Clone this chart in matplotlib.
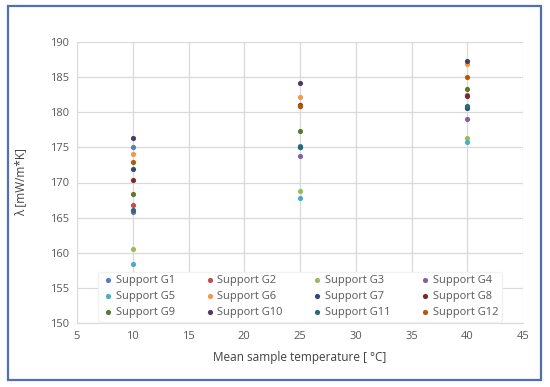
import matplotlib.pyplot as plt
from matplotlib.patches import Rectangle

# -----------------------------
# Data
# -----------------------------
temps = [10, 25, 40]
series_names = ["Support G%d" % i for i in range(1, 13)]

g1 = [175.1, 175.2, 180.8]
g2 = [166.8, 180.9, 182.4]
g3 = [160.5, 168.8, 176.3]
g4 = [165.8, 173.8, 179.0]
g5 = [158.4, 167.8, 175.7]
g6 = [174.0, 182.1, 186.8]
g7 = [171.9, 175.0, 180.6]
g8 = [170.4, 181.0, 182.3]
g9 = [168.4, 177.4, 183.3]
g10 = [176.4, 184.1, 187.3]
g11 = [166.1, 175.1, 180.9]
g12 = [172.9, 180.9, 185.0]

all_series = [g1, g2, g3, g4, g5, g6, g7, g8, g9, g10, g11, g12]

# Excel 2010 style palette (accents + darker shades)
colors = ["#4F81BD", "#C0504D", "#9BBB59", "#8064A2", "#4BACC6", "#F79646",
          "#2C4D75", "#772C2A", "#5F7530", "#4D3B62", "#276A7C", "#B65708"]

plt.rcParams["font.family"] = ["Open Sans", "DejaVu Sans"]

fig = plt.figure(figsize=(5.5, 3.87), dpi=100)
ax = fig.add_axes([77 / 550, 1 - 323 / 387, 446 / 550, 281 / 387])

handles = []
for name, vals, c in zip(series_names, all_series, colors):
    h = ax.scatter(temps, vals, s=14, color=c, label=name, zorder=3, linewidths=0)
    handles.append(h)

ax.set_xlim(5, 45)
ax.set_ylim(150, 190)
ax.set_xticks(range(5, 50, 5))
ax.set_yticks(range(150, 195, 5))
ax.grid(True, color="#D9D9D9", linewidth=0.9)
ax.set_axisbelow(True)
for s in ["top", "right", "left"]:
    ax.spines[s].set_visible(False)
ax.spines["bottom"].set_color("#D9D9D9")
ax.tick_params(length=0, labelsize=8, colors="#595959", pad=6)

ax.set_xlabel("Mean sample temperature [ °C]", fontsize=8.5, color="#404040", labelpad=6)
ax.set_ylabel("λ [mW/m*K]", fontsize=8.5, color="#404040", labelpad=16)

# legend is filled column by column, so reorder to read row by row
ncol = 4
nrow = 3
order = [r * ncol + c for c in range(ncol) for r in range(nrow)]
leg = ax.legend([handles[i] for i in order], [series_names[i] for i in order],
                loc="lower center", ncol=ncol, fontsize=8, frameon=True,
                bbox_to_anchor=(0.5, -0.015), handletextpad=0.1,
                columnspacing=2.5, labelspacing=0.45, markerscale=1.0,
                borderpad=0.3, handlelength=1.2)
leg.get_frame().set_edgecolor("#F2F2F2")
leg.get_frame().set_facecolor("white")
leg.get_frame().set_alpha(1)
for t in leg.get_texts():
    t.set_color("#595959")

# blue frame around the whole chart
fig.patches.append(Rectangle((7.5 / 550, 1 - 380 / 387), 533 / 550, 374 / 387,
                             transform=fig.transFigure, fill=False,
                             edgecolor="#4F6FB0", linewidth=1.6))

fig.savefig("out.png", dpi=100)
